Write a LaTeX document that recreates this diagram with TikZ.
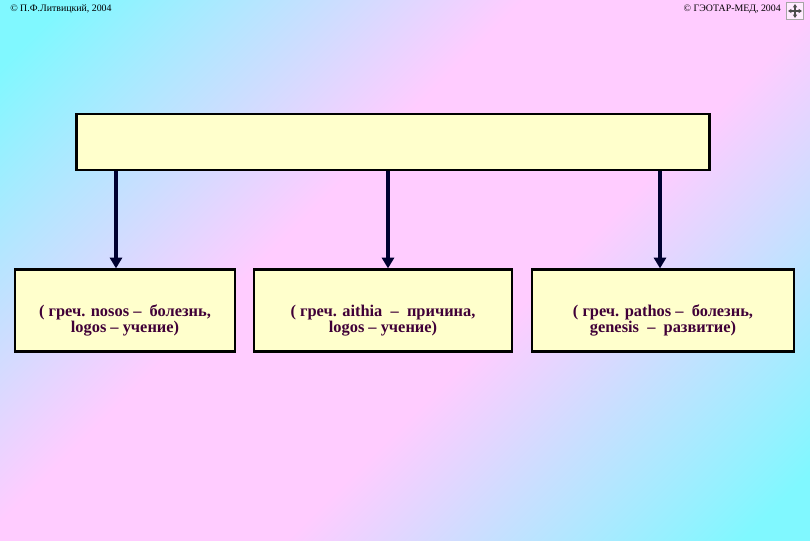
\documentclass[tikz,border=0pt]{standalone}
\usepackage{fontspec}
\setmainfont{Liberation Serif}
\usetikzlibrary{arrows.meta,positioning}

\definecolor{bgcyan}{RGB}{128,248,255}
\definecolor{bgpink}{RGB}{255,204,255}
\definecolor{boxfill}{RGB}{255,255,204}
\definecolor{txtcol}{RGB}{64,0,56}
\definecolor{arrcol}{RGB}{0,0,48}

\pgfdeclarehorizontalshading{bgshade}{100bp}{color(0bp)=(bgcyan); color(18bp)=(bgcyan);
  color(42bp)=(bgpink); color(58bp)=(bgpink); color(82bp)=(bgcyan); color(100bp)=(bgcyan)}

\begin{document}
\begin{tikzpicture}[
  x=0.75pt, y=-0.75pt,
  term/.style={draw=black, line width=2.2pt, fill=boxfill, align=center, inner sep=0pt,
    font=\fontsize{12.3}{12}\selectfont\bfseries, text=txtcol,
    execute at begin node={\rule{0pt}{35pt}}},
  link/.style={-{Triangle[length=8pt,width=9pt]}, line width=2.4pt, draw=arrcol},
  note/.style={font=\fontsize{7.4}{8}\selectfont, text=black, inner sep=0pt},
  navarrow/.style={-{Triangle[length=2.5pt,width=3pt]}, line width=0.8pt, draw=black!70}
]

% Background
\begin{scope}[xscale=1.5]
  \shade[shading=bgshade, shading angle=-45] (0,0) rectangle (540,540);
\end{scope}
\useasboundingbox (0,0) rectangle (810,540);

% Header
\node[note, anchor=west] (author) at (10,9) {© П.Ф.Литвицкий, 2004};
\node[note, anchor=east] (publisher) at (781,9) {© ГЭОТАР-МЕД, 2004};
\node[draw=gray!70, fill=white!60!bgpink, minimum size=13pt, inner sep=0pt] (nav) at (795,11) {};
\draw[navarrow] (nav.center) -- ++(0,-7);
\draw[navarrow] (nav.center) -- ++(0,7);
\draw[navarrow] (nav.center) -- ++(-7,0);
\draw[navarrow] (nav.center) -- ++(7,0);

% Title box
\node[term, minimum width=475pt, minimum height=42pt, execute at begin node={}] (top) at (393,142) {};

% Branches
\node[term, minimum width=165pt, minimum height=61pt] (nos) at (125,310.5)
  {( греч. nosos –\ \ болезнь,\\logos – учение)};
\node[term, minimum width=193.5pt, minimum height=61pt] (eti) at (383,310.5)
  {( греч. aithia\ \ –\ \ причина,\\logos – учение)};
\node[term, minimum width=196.5pt, minimum height=61pt] (pat) at (663,310.5)
  {( греч. pathos –\ \ болезнь,\\genesis\ \ –\ \ развитие)};

% Arrows
\coordinate (a1) at (116,142);
\coordinate (a2) at (388,142);
\coordinate (a3) at (660,142);
\draw[link] (a1 |- top.south) -- (a1 |- nos.north);
\draw[link] (a2 |- top.south) -- (a2 |- eti.north);
\draw[link] (a3 |- top.south) -- (a3 |- pat.north);

\end{tikzpicture}
\end{document}
